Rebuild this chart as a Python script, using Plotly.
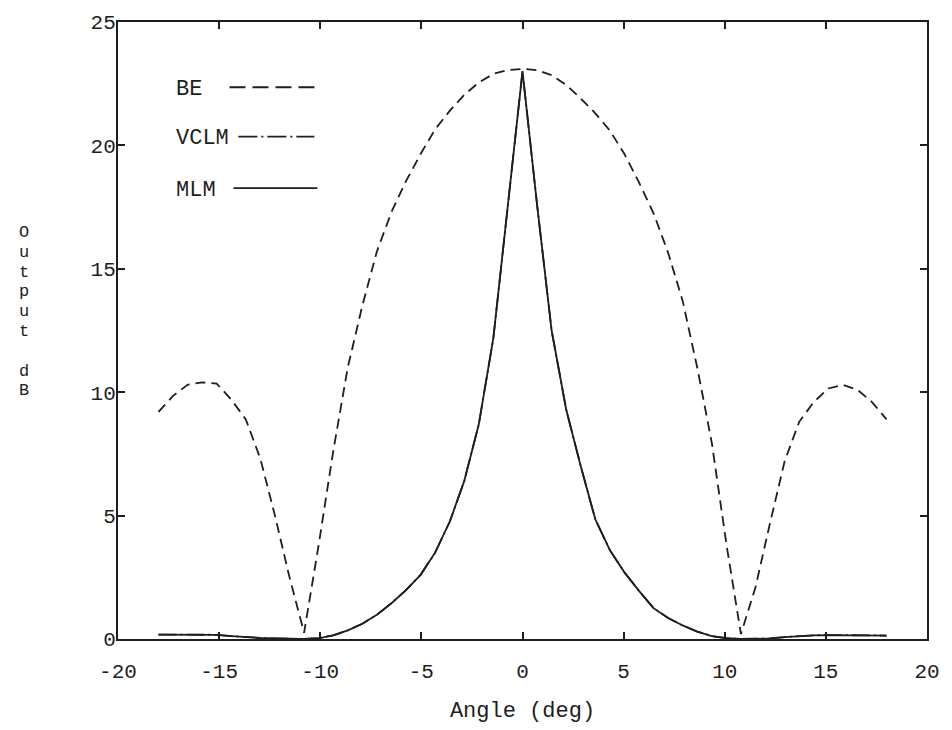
import plotly.graph_objects as go

# Scan angles (deg), 0.72 deg grid from -18 to 18
angle = [-18.0, -17.28, -16.56, -15.84, -15.12, -14.4, -13.68, -12.96, -12.24, -11.52,
         -10.8, -10.08, -9.36, -8.64, -7.92, -7.2, -6.48, -5.76, -5.04, -4.32,
         -3.6, -2.88, -2.16, -1.44, -0.72, 0.0, 0.72, 1.44, 2.16, 2.88,
         3.6, 4.32, 5.04, 5.76, 6.48, 7.2, 7.92, 8.64, 9.36, 10.08,
         10.8, 11.52, 12.24, 12.96, 13.68, 14.4, 15.12, 15.84, 16.56, 17.28, 18.0]

# Beamformer (BE) output, dB
be = [9.2, 9.85, 10.3, 10.4, 10.35, 9.7, 8.9, 7.3, 5.0, 2.5,
      0.25, 3.8, 7.6, 11.0, 13.5, 15.7, 17.3, 18.55, 19.65, 20.65,
      21.4, 22.05, 22.55, 22.9, 23.05, 23.1, 23.05, 22.85, 22.45, 21.9,
      21.3, 20.6, 19.65, 18.5, 17.25, 15.65, 13.7, 11.0, 7.95, 3.85,
      0.2, 2.1, 4.7, 7.2, 8.8, 9.6, 10.15, 10.3, 10.1, 9.6, 8.9]

# Maximum likelihood method (MLM) output, dB
mlm = [0.18, 0.18, 0.18, 0.18, 0.17, 0.12, 0.07, 0.04, 0.02, 0.0,
       0.0, 0.03, 0.15, 0.35, 0.62, 0.98, 1.45, 1.98, 2.6, 3.5,
       4.75, 6.4, 8.7, 12.2, 17.5, 23.0, 17.6, 12.5, 9.3, 7.0,
       4.85, 3.6, 2.7, 1.95, 1.25, 0.85, 0.55, 0.3, 0.12, 0.03,
       0.0, 0.0, 0.02, 0.08, 0.13, 0.15, 0.16, 0.16, 0.16, 0.15, 0.14]

# VCLM output, dB (coincides with MLM over the whole scan)
vclm = [0.18, 0.18, 0.18, 0.18, 0.17, 0.12, 0.07, 0.04, 0.02, 0.0,
        0.0, 0.03, 0.15, 0.35, 0.62, 0.98, 1.45, 1.98, 2.6, 3.5,
        4.75, 6.4, 8.7, 12.2, 17.5, 23.0, 17.6, 12.5, 9.3, 7.0,
        4.85, 3.6, 2.7, 1.95, 1.25, 0.85, 0.55, 0.3, 0.12, 0.03,
        0.0, 0.0, 0.02, 0.08, 0.13, 0.15, 0.16, 0.16, 0.16, 0.15, 0.14]

x_ticks = [-20, -15, -10, -5, 0, 5, 10, 15, 20]
y_ticks = [0, 5, 10, 15, 20, 25]

series_names = ["BE", "VCLM", "MLM"]
series_dash = ["10px,6px", "18px,4px,2px,4px", "solid"]
legend_dash = ["16px,7px", "19px,4px,2px,4px", "solid"]

FONT = "Liberation Mono, Courier New, monospace"
INK = "#1e1e1e"

fig = go.Figure()
for name, yv, dash in zip(series_names, [be, vclm, mlm], series_dash):
    fig.add_trace(go.Scatter(x=angle, y=yv, mode="lines", name=name,
                             line=dict(color=INK, width=1.8, dash=dash),
                             showlegend=False))

# Plot area in pixels: left 118, right 938, top 20, bottom 644
L, R, T, B = 118, 938, 20, 644
W, H = R - L, B - T


def px(xp):
    return (xp - L) / W


def py(yp):
    return (B - yp) / H


annotations = []
shapes = []

# Legend block: label text followed by a line sample
legend_rows = [(175, 88, 231, 318), (175, 138, 240, 317), (175, 190, 235, 320)]
for name, dash, (tx, ty, lx0, lx1) in zip(series_names, legend_dash, legend_rows):
    annotations.append(dict(text=name, x=px(tx), y=py(ty), xref="paper", yref="paper",
                            xanchor="left", yanchor="middle", showarrow=False,
                            font=dict(family=FONT, size=22, color=INK)))
    shapes.append(dict(type="line", xref="paper", yref="paper",
                       x0=px(lx0), x1=px(lx1), y0=py(ty - 2), y1=py(ty - 2),
                       line=dict(color=INK, width=1.8, dash=dash)))

# Vertical y-axis title, one letter per row
for i, ch in enumerate("Output dB"):
    if ch == " ":
        continue
    annotations.append(dict(text=ch, x=px(23), y=py(233 + 20 * i), xref="paper", yref="paper",
                            xanchor="center", yanchor="middle", showarrow=False,
                            font=dict(family=FONT, size=17, color=INK)))

fig.update_layout(
    width=952, height=730,
    margin=dict(l=L, r=952 - R, t=T, b=730 - B),
    paper_bgcolor="white", plot_bgcolor="white",
    font=dict(family=FONT, size=21, color=INK),
    annotations=annotations, shapes=shapes,
    showlegend=False,
)
fig.update_xaxes(range=[-20, 20], tickvals=x_ticks, ticktext=[str(v) for v in x_ticks],
                 ticks="inside", ticklen=7, tickwidth=1.5, tickcolor=INK,
                 showline=True, linecolor=INK, linewidth=2, mirror="ticks",
                 showgrid=False, zeroline=False, ticklabelstandoff=12,
                 title=dict(text="Angle (deg)", font=dict(family=FONT, size=22, color=INK),
                            standoff=18))
fig.update_yaxes(range=[0, 25], tickvals=y_ticks, ticktext=[str(v) for v in y_ticks],
                 ticks="inside", ticklen=7, tickwidth=1.5, tickcolor=INK,
                 showline=True, linecolor=INK, linewidth=2,
                 mirror="ticks", showgrid=False, zeroline=False, ticklabelstandoff=-4)

fig.write_html("out.html")
